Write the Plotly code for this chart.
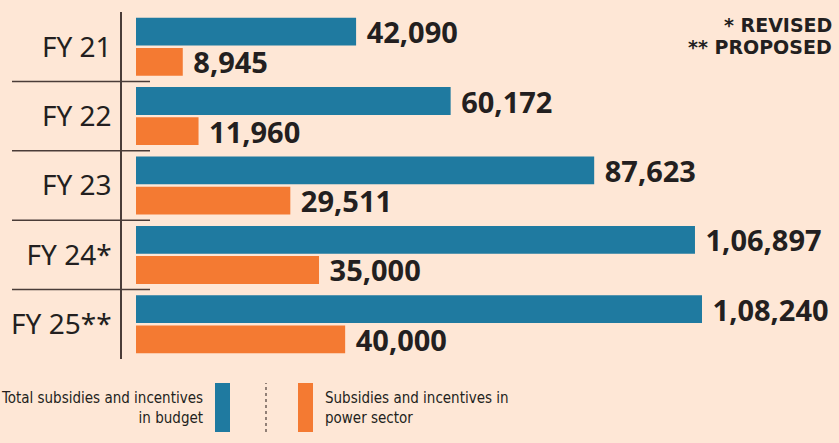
import plotly.graph_objects as go

years = ["FY 21", "FY 22", "FY 23", "FY 24*", "FY 25**"]
total_budget = [42090, 60172, 87623, 106897, 108240]
power_sector = [8945, 11960, 29511, 35000, 40000]
series_names = ["Total subsidies and incentives<br>in budget", "Subsidies and incentives in<br>power sector"]
notes = ["* REVISED", "** PROPOSED"]

BLUE = "#1f7aa0"
ORANGE = "#f47a32"
BG = "#fee7d6"
INK = "#231f20"


def inr(v):
    s = str(int(v))
    if len(s) <= 3:
        return s
    last3, rest = s[-3:], s[:-3]
    groups = []
    while len(rest) > 2:
        groups.insert(0, rest[-2:])
        rest = rest[:-2]
    if rest:
        groups.insert(0, rest)
    return ",".join(groups + [last3])


label_font = dict(family="Noto Sans", size=29, color=INK)

fig = go.Figure()
fig.add_trace(go.Bar(
    y=years, x=total_budget, orientation="h", name="Total",
    marker=dict(color=BLUE, line=dict(width=0)),
    text=["\u00a0" + inr(v) for v in total_budget], textposition="outside",
    textfont=label_font, constraintext="none", cliponaxis=False,
    texttemplate="<b>%{text}</b>", hoverinfo="skip",
))
fig.add_trace(go.Bar(
    y=years, x=power_sector, orientation="h", name="Power",
    marker=dict(color=ORANGE, line=dict(width=0)),
    text=["\u00a0" + inr(v) for v in power_sector], textposition="outside",
    textfont=label_font, constraintext="none", cliponaxis=False,
    texttemplate="<b>%{text}</b>", hoverinfo="skip",
))

PL, PT, PB, W, H = 122, 12, 84, 839, 443
pw = W - PL
ph = H - PT - PB


def px_x(x):
    return (x - PL) / pw


def px_y(y):
    return (H - PB - y) / ph


shapes = []
for b in [0.5, 1.5, 2.5, 3.5]:
    shapes.append(dict(type="line", xref="paper", yref="y", x0=px_x(12), x1=px_x(150),
                       y0=b, y1=b, line=dict(color="#4a3c38", width=1.5)))
# legend swatches and divider
shapes.append(dict(type="rect", xref="paper", yref="paper", x0=px_x(215), x1=px_x(230),
                   y0=px_y(432), y1=px_y(383), fillcolor=BLUE, line=dict(width=0)))
shapes.append(dict(type="rect", xref="paper", yref="paper", x0=px_x(298), x1=px_x(313),
                   y0=px_y(432), y1=px_y(383), fillcolor=ORANGE, line=dict(width=0)))
shapes.append(dict(type="line", xref="paper", yref="paper", x0=px_x(266), x1=px_x(266),
                   y0=px_y(432), y1=px_y(383), line=dict(color="#4a3c38", width=1.2, dash="dot")))

leg_font = dict(family="Liberation Sans Narrow, DejaVu Sans Condensed, Liberation Sans, sans-serif",
                size=15, color=INK)
annotations = [
    dict(text=series_names[0], xref="paper", yref="paper", x=px_x(205), y=px_y(408),
         xanchor="right", yanchor="middle", align="right", showarrow=False, font=leg_font),
    dict(text=series_names[1], xref="paper", yref="paper", x=px_x(323), y=px_y(408),
         xanchor="left", yanchor="middle", align="left", showarrow=False, font=leg_font),
    dict(text="<b>" + notes[0] + "</b>", xref="paper", yref="paper", x=px_x(834), y=px_y(25),
         xanchor="right", yanchor="middle", showarrow=False,
         font=dict(family="DejaVu Sans", size=19, color=INK)),
    dict(text="<b>" + notes[1] + "</b>", xref="paper", yref="paper", x=px_x(834), y=px_y(47),
         xanchor="right", yanchor="middle", showarrow=False,
         font=dict(family="DejaVu Sans", size=19, color=INK)),
]

scale = 566 / 108240
fig.update_layout(
    width=W, height=H,
    margin=dict(l=PL, r=0, t=PT, b=PB, pad=0),
    paper_bgcolor=BG, plot_bgcolor=BG,
    barmode="group", bargap=0.13, bargroupgap=0.08,
    showlegend=False,
    shapes=shapes, annotations=annotations,
    xaxis=dict(range=[-14 / scale, (pw - 14) / scale], visible=False, fixedrange=True),
    yaxis=dict(autorange="reversed", showline=True, linecolor="#4a3c38", linewidth=1.5,
               ticks="", showgrid=False, zeroline=False, ticklabelstandoff=3,
               tickfont=dict(family="Noto Sans", size=28, color=INK), fixedrange=True),
)

fig.write_html("out.html", config={"displayModeBar": False})
